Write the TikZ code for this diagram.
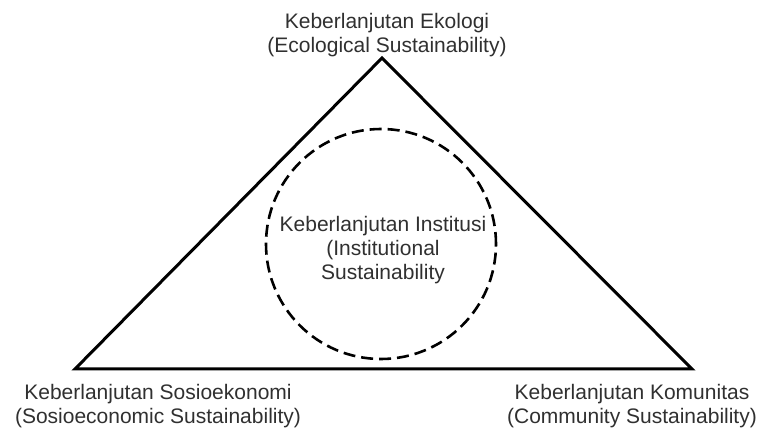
\documentclass[tikz,border=0pt]{standalone}
\usepackage{fontspec}
\setmainfont{Liberation Sans}
\usepackage{xcolor}
\usepackage{tikz}
\usetikzlibrary{calc}
\definecolor{labelgray}{HTML}{303030}

\begin{document}
\begin{tikzpicture}[x=1pt,y=-1pt]
\tikzstyle{lbl}=[text=labelgray,align=center,font=\fontsize{21}{24}\selectfont,inner sep=0pt]
\tikzstyle{inst}=[draw,dashed,dash pattern=on 12pt off 6pt,line width=2.6pt,shape=circle,minimum size=230pt,inner sep=0pt]
\useasboundingbox (0,0) rectangle (761,430);
%
\coordinate (top) at (382,58);
\coordinate (left) at (75,369);
\coordinate (right) at (692,369);
%
\draw[line width=3pt,line join=miter] (top) -- (left) -- (right) -- cycle;
%
\node[inst,lbl](inst) at (381,244){};
\node[lbl](instl) at (383,250){Keberlanjutan Institusi\\(Institutional\\Sustainability};
%
\node[lbl](eko) at (387,35){Keberlanjutan Ekologi\\(Ecological Sustainability)};
\node[lbl](sos) at (158,406){Keberlanjutan Sosioekonomi\\(Sosioeconomic Sustainability)};
\node[lbl](kom) at (632,406){Keberlanjutan Komunitas\\(Community Sustainability)};
\end{tikzpicture}
\end{document}
